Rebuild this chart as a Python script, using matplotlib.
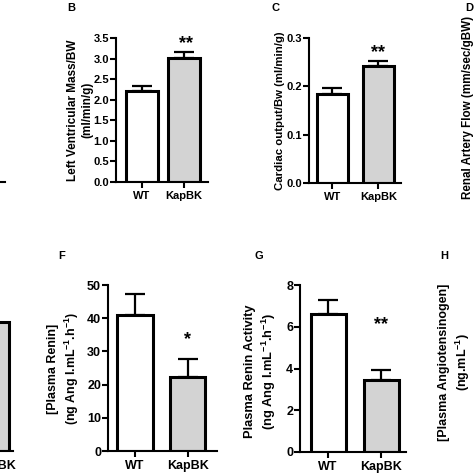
import matplotlib
matplotlib.use("Agg")
import matplotlib.pyplot as plt
import matplotlib.transforms as mtransforms

plt.rcParams['font.family'] = ['Liberation Sans', 'DejaVu Sans']
plt.rcParams['font.weight'] = 'bold'
plt.rcParams['mathtext.fontset'] = 'custom'
plt.rcParams['mathtext.bf'] = 'Liberation Sans:bold'
plt.rcParams['mathtext.rm'] = 'Liberation Sans:bold'
plt.rcParams['mathtext.default'] = 'bf'

groups = ["WT", "KapBK"]

# panel B: left ventricular mass / BW
lvm = [2.20, 3.02]
lvm_err = [0.13, 0.13]
# panel C: cardiac output / BW
co = [0.185, 0.242]
co_err = [0.012, 0.010]
# panel E (only the KapBK bar edge is in view)
e_kap = 38.9
# panel F: plasma renin
renin = [41.0, 22.3]
renin_err = [6.3, 5.4]
# panel G: plasma renin activity
pra = [6.6, 3.45]
pra_err = [0.7, 0.5]

GRAY = "#d3d3d3"
W = H = 474
fig = plt.figure(figsize=(W / 100, H / 100), dpi=100)


def px_axes(x0, x1, ytop, ybot):
    return fig.add_axes([x0 / W, (H - ybot) / H, (x1 - x0) / W, (ybot - ytop) / H])


def style(ax, xlim, ylim, yticks, fmt, fs=8):
    ax.set_xlim(*xlim)
    ax.set_ylim(*ylim)
    for s in ["top", "right"]:
        ax.spines[s].set_visible(False)
    for s in ["left", "bottom"]:
        ax.spines[s].set_linewidth(1.5)
    ax.set_xticks([0, 1])
    ax.set_xticklabels(groups)
    ax.set_yticks(yticks)
    ax.set_yticklabels([fmt.format(t) for t in yticks])
    ax.tick_params(axis="y", length=4, width=1.5, pad=1, labelsize=fs)
    ax.tick_params(axis="x", length=4, width=1.5, pad=2.5, labelsize=fs)
    ax.patch.set_alpha(0)


def bars(ax, vals, errs, width):
    ax.errorbar([0, 1], vals, yerr=[[0, 0], errs], fmt="none", ecolor="black",
                elinewidth=1.6, capsize=7, capthick=1.6, zorder=1)
    ax.bar([0, 1], vals, width, color=["white", GRAY], edgecolor="black",
           linewidth=2.2, zorder=2)


def stars(ax, x, y, txt, fs=13):
    tr = mtransforms.offset_copy(ax.transData, fig=fig, y=-0.58 * fs, units="points")
    ax.text(x, y, txt, transform=tr, ha="center", va="baseline", fontsize=fs,
            fontweight="bold")


def ylab(x, y, txt, fs):
    fig.text(x / W, 1 - y / H, txt, rotation=90, ha="center", va="center",
             fontsize=fs, fontweight="bold", linespacing=1.3, multialignment="center")


def letter(x, y, txt):
    fig.text(x / W, 1 - y / H, txt, ha="center", va="center", fontsize=8,
             fontweight="bold")


# A (only the end of its x axis is in view)
axA = px_axes(-100, 5, 38, 182)
style(axA, (-0.93, 1.57), (0, 1), [], "{}")

# B
axB = px_axes(116, 208, 38, 182)
bars(axB, lvm, lvm_err, 0.76)
style(axB, (-0.62, 1.57), (0, 3.5), [0, 0.5, 1.0, 1.5, 2.0, 2.5, 3.0, 3.5], "{:.1f}")
stars(axB, 1.05, 3.5, "**")
ylab(80, 110, "Left Ventricular Mass/BW\n(ml/min/g)", 8.5)
letter(71, 8, "B")

# C
axC = px_axes(309, 401, 38, 183)
bars(axC, co, co_err, 0.67)
style(axC, (-0.51, 1.49), (0, 0.3), [0.0, 0.1, 0.2, 0.3], "{:.1f}")
stars(axC, 1.0, 0.283, "**")
ylab(280, 111, "Cardiac output/Bw (ml/min/g)", 8.2)
letter(276, 8, "C")

# D (only its label is in view)
ylab(468, 107, "Renal Artery Flow (mm/sec/gBW)", 8.4)
letter(469, 8, "D")

# E (only the edge of its KapBK bar is in view)
axE = px_axes(-100, 13, 285, 451)
axE.bar([1], [e_kap], 0.52, color=GRAY, edgecolor="black", linewidth=2.2, zorder=2)
style(axE, (-0.81, 1.34), (0, 50), [], "{}", fs=9)

# F
axF = px_axes(108, 217, 285, 451)
bars(axF, renin, renin_err, 0.68)
style(axF, (-0.51, 1.56), (0, 50), [0, 10, 20, 30, 40, 50], "{}", fs=9)
stars(axF, 1.0, 35.5, "*")
ylab(64, 369, "[Plasma Renin]\n(ng Ang I.mL$^{-1}$.h$^{-1}$)", 8.9)
letter(62, 256, "F")

# G
axG = px_axes(300, 406, 285, 452)
bars(axG, pra, pra_err, 0.66)
style(axG, (-0.53, 1.47), (0, 8), [0, 2, 4, 6, 8], "{}", fs=9)
stars(axG, 1.0, 6.4, "**")
ylab(261, 371, "Plasma Renin Activity\n(ng Ang I.mL$^{-1}$.h$^{-1}$)", 9.3)
letter(259, 256, "G")

# H (only its label is in view)
ylab(455, 362, "[Plasma Angiotensinogen]\n(ng.mL$^{-1}$)", 9)
letter(444, 256, "H")

fig.savefig("out.png", dpi=100)
